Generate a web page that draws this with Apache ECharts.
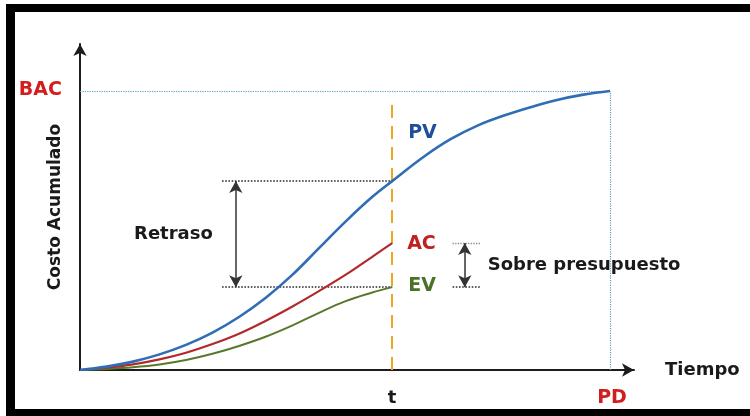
<!DOCTYPE html>
<html>
<head>
<meta charset="utf-8">
<script src="https://cdn.jsdelivr.net/npm/echarts@6/dist/echarts.min.js"></script>
<style>
  html, body { margin: 0; padding: 0; background: #ffffff; }
  #chart { width: 750px; height: 416px; }
</style>
</head>
<body>
<div id="chart"></div>
<script>
// Time axis (PD = 100) and cumulative cost (BAC = 100)
const time = [0, 5, 10, 15, 20, 25, 30, 35, 40, 45, 50, 55, 58.9, 65, 70, 75, 80, 85, 90, 95, 100];
const pv = [0, 1.2, 3.0, 5.6, 9.0, 13.4, 19.0, 25.8, 34.0, 43.5, 53.0, 61.8, 67.7, 76.6, 82.8, 87.6, 91.2, 94.2, 96.8, 98.7, 100];
const ac = [0, 0.8, 2.0, 3.8, 6.2, 9.3, 13.0, 17.6, 22.7, 28.2, 34.0, 40.4, 45.5];
const ev = [0, 0.4, 1.0, 2.0, 3.6, 5.8, 8.6, 11.9, 15.9, 20.4, 24.6, 27.7, 29.7];

const statusTime = 58.9;   // t
const bac = 100;
const pd = 100;

// Where the two measurement arrows sit along the time axis
const delayArrowX = 29.4;
const overrunArrowX = 72.6;

const FONT = '"DejaVu Sans", "Liberation Sans", sans-serif';
const C = {
  axis: '#1c1c1c',
  pv: '#2f6db5', pvText: '#1f4f9a',
  ac: '#b3292b', acText: '#c21f1f',
  ev: '#56792c', evText: '#4b7227',
  red: '#d21e1e',
  orange: '#eca623',
  guide: '#5e9dbd',
  dots: '#2b2b2b',
  text: '#1a1a1a'
};

const tIdx = time.indexOf(statusTime);
const pvAtT = pv[tIdx];
const acAtT = ac[tIdx];
const evAtT = ev[tIdx];

const zip = (vals) => vals.map((v, i) => [time[i], v]);

const chart = echarts.init(document.getElementById('chart'), null, { renderer: 'canvas' });

const curve = (name, vals, color, width) => ({
  name, type: 'line', data: zip(vals), smooth: 0.4,
  symbol: 'none', silent: true, z: 5,
  lineStyle: { color, width }
});

chart.setOption({
  animation: false,
  backgroundColor: 'transparent',
  grid: { left: 80, right: 116, top: 44, bottom: 46 },
  xAxis: {
    type: 'value', min: 0, max: 104.53,
    axisLine: { show: true, lineStyle: { color: C.axis, width: 2 }, symbol: ['none', 'arrow'], symbolSize: [10, 12] },
    axisTick: { show: false }, axisLabel: { show: false }, splitLine: { show: false },
    name: 'Tiempo', nameLocation: 'end', nameGap: 31,
    nameTextStyle: { fontFamily: FONT, fontSize: 18, fontWeight: 'bold', color: C.text, verticalAlign: 'middle' }
  },
  yAxis: {
    type: 'value', min: 0, max: 116.85,
    axisLine: { show: true, lineStyle: { color: C.axis, width: 2 }, symbol: ['none', 'arrow'], symbolSize: [10, 12] },
    axisTick: { show: false }, axisLabel: { show: false }, splitLine: { show: false },
    name: 'Costo Acumulado', nameLocation: 'middle', nameRotate: 90, nameGap: 16,
    nameTextStyle: { fontFamily: FONT, fontSize: 17, fontWeight: 'bold', color: C.text }
  },
  series: [
    // reference guides: BAC level, PD date and status date t
    {
      type: 'line', data: [], silent: true, z: 3,
      markLine: {
        silent: true, symbol: 'none', animation: false,
        label: { show: false },
        data: [
          [{ coord: [0, bac], lineStyle: { color: C.guide, type: 'dotted', width: 1.2 } }, { coord: [pd, bac] }],
          [{ coord: [pd, 0], lineStyle: { color: C.guide, type: 'dotted', width: 1.2 } }, { coord: [pd, bac] }],
          [{ coord: [statusTime, 0], lineStyle: { color: C.orange, type: [13, 8], width: 2 } }, { coord: [statusTime, 97.8] }],
          [{ coord: [delayArrowX - 2.6, pvAtT], lineStyle: { color: C.dots, type: 'dotted', width: 1.6 } }, { coord: [statusTime, pvAtT] }],
          [{ coord: [delayArrowX - 2.6, evAtT], lineStyle: { color: C.dots, type: 'dotted', width: 1.6 } }, { coord: [statusTime, evAtT] }],
          [{ coord: [overrunArrowX - 2.3, acAtT], lineStyle: { color: '#8a8a8a', type: 'dotted', width: 1.3 } }, { coord: [overrunArrowX + 2.9, acAtT] }],
          [{ coord: [overrunArrowX - 2.3, evAtT], lineStyle: { color: C.dots, type: 'dotted', width: 1.6 } }, { coord: [overrunArrowX + 2.9, evAtT] }]
        ]
      }
    },
    // two-headed measurement arrows
    {
      type: 'line', data: [], silent: true, z: 4,
      markLine: {
        silent: true, symbol: ['arrow', 'arrow'], symbolSize: [10, 12], animation: false,
        label: { show: false },
        lineStyle: { color: '#333333', type: 'solid', width: 1.5 },
        data: [
          [{ coord: [delayArrowX, pvAtT] }, { coord: [delayArrowX, evAtT] }],
          [{ coord: [overrunArrowX, acAtT] }, { coord: [overrunArrowX, evAtT] }]
        ]
      }
    },
    curve('EV', ev, C.ev, 2),
    curve('AC', ac, C.ac, 2.2),
    curve('PV', pv, C.pv, 2.6)
  ]
});

// Text annotations placed from data coordinates
const px = (x, y) => chart.convertToPixel({ gridIndex: 0 }, [x, y]);
const txt = (text, p, color, size, align, dx, dy) => ({
  type: 'text', x: p[0] + (dx || 0), y: p[1] + (dy || 0), silent: true, z: 10,
  style: { text, fill: color, font: 'bold ' + size + 'px ' + FONT, align, verticalAlign: 'middle' }
});

const tPx = px(statusTime, 0);
const pdPx = px(pd, 0);
const bacPx = px(0, bac);
const delayPx = px(delayArrowX, (pvAtT + evAtT) / 2);
const overrunPx = px(overrunArrowX, (acAtT + evAtT) / 2);

chart.setOption({
  graphic: [
    // frame
    { type: 'rect', silent: true, z: -2, shape: { x: 6, y: 4, width: 744, height: 412 }, style: { fill: '#000000' } },
    { type: 'rect', silent: true, z: -1, shape: { x: 15, y: 12, width: 735, height: 397 }, style: { fill: '#ffffff' } },
    txt('BAC', bacPx, C.red, 19, 'right', -18, -1),
    txt('t', tPx, C.text, 18, 'center', 0, 28),
    txt('PD', pdPx, C.red, 19, 'center', 2, 28),
    txt('PV', px(statusTime, 84.9), C.pvText, 19, 'left', 16, 0),
    txt('AC', px(statusTime, acAtT), C.acText, 19, 'left', 15, 1),
    txt('EV', px(statusTime, evAtT), C.evText, 19, 'left', 16, -1),
    txt('Retraso', delayPx, C.text, 18, 'right', -23, 0),
    txt('Sobre presupuesto', overrunPx, C.text, 18, 'left', 23, 0)
  ]
});
</script>
</body>
</html>
